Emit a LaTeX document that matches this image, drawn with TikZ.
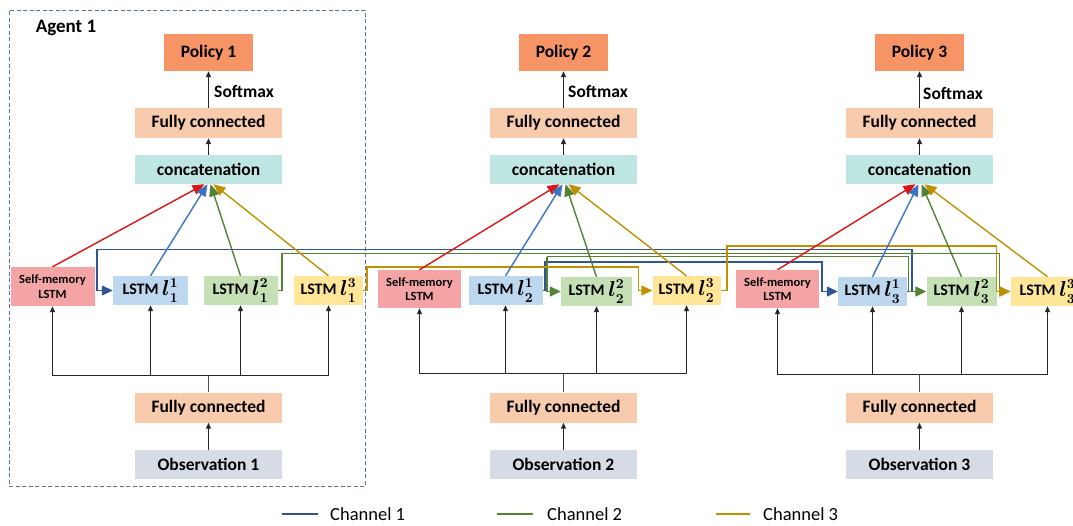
\documentclass[tikz,border=0pt]{standalone}
\usepackage{graphicx}
\usepackage{fontspec}
\setmainfont{Carlito}
\usetikzlibrary{arrows.meta,calc}
\definecolor{cpolicy}{RGB}{247,148,101}
\definecolor{cfc}{RGB}{248,203,173}
\definecolor{ccat}{RGB}{190,230,226}
\definecolor{csm}{RGB}{244,164,164}
\definecolor{cla}{RGB}{189,215,238}
\definecolor{clb}{RGB}{197,224,180}
\definecolor{clc}{RGB}{255,230,153}
\definecolor{cobs}{RGB}{214,220,229}
\definecolor{chblue}{RGB}{47,85,151}
\definecolor{chbluel}{RGB}{60,115,195}
\definecolor{chgreen}{RGB}{84,130,53}
\definecolor{chgold}{RGB}{191,144,0}
\definecolor{chred}{RGB}{220,20,20}
\definecolor{cdash}{RGB}{90,115,165}
\newcommand{\lstmlab}[2]{LSTM~\raisebox{-1pt}{\scalebox{1.25}{\boldmath$l_{#1}^{#2}$}}}
\begin{document}
\begin{tikzpicture}[x=1pt,y=-1pt,
 lbl/.style={inner sep=0pt, font=\fontsize{17.5}{20}\selectfont\bfseries},
 pol/.style={lbl, fill=cpolicy, minimum width=89pt, minimum height=37pt},
 fcb/.style={lbl, fill=cfc, minimum width=147pt, minimum height=30pt},
 catb/.style={lbl, fill=ccat, minimum width=147pt, minimum height=29pt},
 obsb/.style={lbl, fill=cobs, minimum width=147pt, minimum height=29pt},
 smb/.style={inner sep=0pt, fill=csm, minimum width=84pt, minimum height=39pt, align=center, font=\fontsize{12.5}{14.5}\selectfont\bfseries},
 lstmb/.style={inner sep=0pt, minimum height=29pt, font=\fontsize{16}{18}\selectfont\bfseries},
 up/.style={draw=black!85, line width=1.1pt, -{Triangle[length=6pt,width=5pt]}},
 plainline/.style={draw=black!70, line width=1.1pt},
 ch/.style={line width=1.4pt, -{Triangle[length=11pt,width=10pt]}},
 cc/.style={line width=1.4pt, -{Triangle[length=12pt,width=10pt]}},
 legtxt/.style={inner sep=0pt, anchor=west, font=\fontsize{18.5}{21}\selectfont},
]
\useasboundingbox (0,0) rectangle (1073,525);

% agent frame
\node[draw=cdash, line width=1pt, dash pattern=on 4pt off 2.5pt, minimum width=356pt, minimum height=476pt, inner sep=0pt] (frame1) at (187,248) {};
\node[lbl, font=\fontsize{19}{22}\selectfont\bfseries] (agent1) at (66,28) {Agent 1};

% ---------- Agent 1
\node[pol] (pol1) at (208.5,52.5) {Policy 1};
\node[fcb] (fct1) at (208.5,123) {Fully connected};
\node[catb] (cat1) at (208.5,169.5) {concatenation};
\node[smb] (sm1) at (52.5,286.5) {Self-memory\\LSTM};
\node[lstmb, fill=cla, minimum width=75pt] (l11) at (150.5,290.5) {\lstmlab{1}{1}};
\node[lstmb, fill=clb, minimum width=74pt] (l12) at (240.5,290.5) {\lstmlab{1}{2}};
\node[lstmb, fill=clc, minimum width=69pt] (l13) at (328.5,290.5) {\lstmlab{1}{3}};
\node[fcb] (fcb1) at (208.5,407.5) {Fully connected};
\node[obsb] (obs1) at (208.5,464.5) {Observation 1};
\coordinate (bus1) at (208.5,375.5);
\node[lbl] (sfm1) at (244,91) {Softmax};

% ---------- Agent 2
\node[pol] (pol2) at (563.5,52.5) {Policy 2};
\node[fcb] (fct2) at (563.5,123) {Fully connected};
\node[catb] (cat2) at (563.5,169.5) {concatenation};
\node[smb, minimum width=83pt, minimum height=38pt] (sm2) at (419.5,289) {Self-memory\\LSTM};
\node[lstmb, fill=cla, minimum width=74pt] (l21) at (505.5,290.5) {\lstmlab{2}{1}};
\node[lstmb, fill=clb, minimum width=71pt] (l22) at (596.5,291.5) {\lstmlab{2}{2}};
\node[lstmb, fill=clc, minimum width=68pt] (l23) at (686.5,290.5) {\lstmlab{2}{3}};
\node[fcb] (fcb2) at (563.5,407.5) {Fully connected};
\node[obsb] (obs2) at (563.5,464.5) {Observation 2};
\coordinate (bus2) at (563.5,373.5);
\node[lbl] (sfm2) at (598,91) {Softmax};

% ---------- Agent 3
\node[pol] (pol3) at (919.5,52.5) {Policy 3};
\node[fcb] (fct3) at (919.5,123) {Fully connected};
\node[catb] (cat3) at (919.5,169.5) {concatenation};
\node[smb, minimum width=83pt, minimum height=38pt] (sm3) at (777.5,289) {Self-memory\\LSTM};
\node[lstmb, fill=cla, minimum width=69pt] (l31) at (872.5,291.5) {\lstmlab{3}{1}};
\node[lstmb, fill=clb, minimum width=70pt] (l32) at (961.5,291.5) {\lstmlab{3}{2}};
\node[lstmb, fill=clc, minimum width=74pt] (l33) at (1047.5,291.5) {\lstmlab{3}{3}};
\node[fcb] (fcb3) at (919.5,407.5) {Fully connected};
\node[obsb] (obs3) at (919.5,464.5) {Observation 3};
\coordinate (bus3) at (919.5,374.5);
\node[lbl] (sfm3) at (953,93) {Softmax};

% ---------- channel links
\draw[ch, chblue] (l31.east) -| (912,249.5) -| ($(l11.west)+(-16,0)$) -- (l11.west);
\draw[ch, chblue] (l21.east) -| (545,262) -| ($(l31.west)+(-16,0)$) -- (l31.west);
\draw[ch, chgreen] (l12.east) -| (282,253.5) -| ($(l33.west)+(-11,0)$) -- (l33.west);
\coordinate (gsplit) at (547,256.5);
\draw[ch, chgreen] (gsplit) -| ($(l32.west)+(-18,0)$) -- (l32.west);
\draw[ch, chgreen] (gsplit) |- (l22.west);
\draw[ch, chgold] (l13.east) -| (367,267) -| ($(l23.west)+(-14,0)$) -- (l23.west);
\draw[ch, chgold] (l23.east) -| (727,246) -| ($(l33.west)+(-14,0)$) -- (l33.west);

% ---------- into concatenation
\foreach \a in {1,2,3}{
  \draw[cc, chred] (sm\a.north) -- ($(cat\a.south)+(-4,0)$);
  \draw[cc, chbluel] (l\a1.north) -- ($(cat\a.south)+(-1,0)$);
  \draw[cc, chgreen] (l\a2.north) -- ($(cat\a.south)+(2,0)$);
  \draw[cc, chgold] (l\a3.north) -- ($(cat\a.south)+(5,0)$);
  % vertical stack
  \draw[up] (cat\a.north) -- (fct\a.south);
  \draw[up] (fct\a.north) -- (pol\a.south);
  \draw[up] (obs\a.north) -- (fcb\a.south);
  \draw[plainline] (fcb\a.north) -- (bus\a);
  \draw[up] (bus\a) -| (sm\a.south);
  \draw[up] (bus\a) -| (l\a1.south);
  \draw[up] (bus\a) -| (l\a2.south);
  \draw[up] (bus\a) -| (l\a3.south);
}

% ---------- legend
\node[legtxt] (leg1) at (330,514) {Channel 1};
\node[legtxt] (leg2) at (547,514) {Channel 2};
\node[legtxt] (leg3) at (763,514) {Channel 3};
\draw[chblue, line width=2.5pt] ($(leg1.west)+(-48,0)$) -- ($(leg1.west)+(-12,0)$);
\draw[chgreen, line width=2.5pt] ($(leg2.west)+(-50,0)$) -- ($(leg2.west)+(-14,0)$);
\draw[chgold, line width=2.5pt] ($(leg3.west)+(-47,0)$) -- ($(leg3.west)+(-13,0)$);
\end{tikzpicture}
\end{document}
